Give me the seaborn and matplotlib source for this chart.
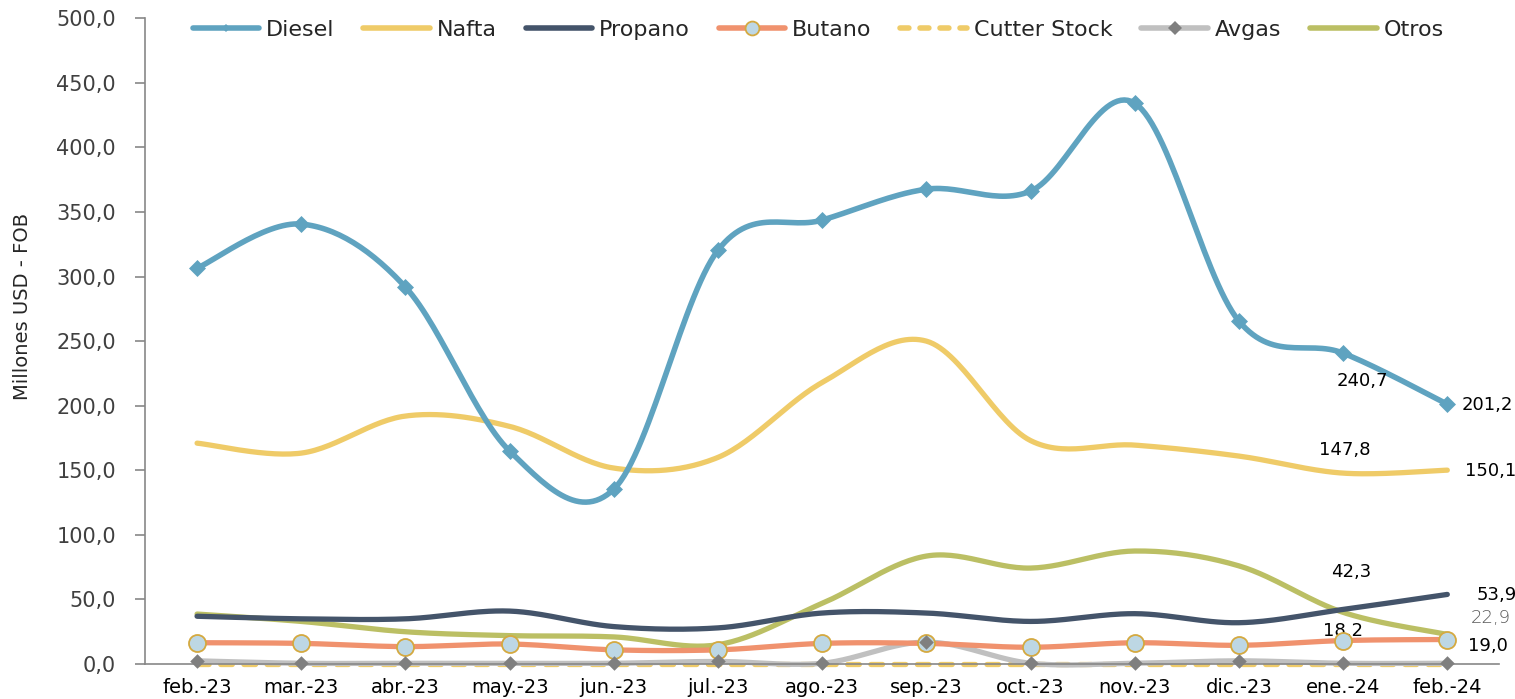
import numpy as np
import pandas as pd
import seaborn as sns
import matplotlib.pyplot as plt
from matplotlib.lines import Line2D

# datos (millones USD FOB)
meses = ["feb.-23", "mar.-23", "abr.-23", "may.-23", "jun.-23", "jul.-23", "ago.-23",
         "sep.-23", "oct.-23", "nov.-23", "dic.-23", "ene.-24", "feb.-24"]
diesel = [306.5, 340.6, 291.8, 164.9, 135.4, 320.4, 343.7, 367.6, 366.1, 434.2, 265.5, 240.7, 201.2]
nafta = [171.0, 163.3, 192.0, 184.0, 151.7, 160.0, 218.0, 250.0, 173.0, 169.5, 161.0, 147.8, 150.1]
propano = [37.0, 35.0, 35.0, 41.0, 29.0, 28.0, 39.5, 39.5, 33.0, 39.0, 32.0, 42.3, 53.9]
butano = [16.5, 16.0, 13.5, 15.5, 11.0, 11.0, 16.0, 16.0, 13.0, 16.5, 14.5, 18.2, 19.0]
cutter = [0.0, 0.0, 0.0, 0.0, 0.0, 0.0, 0.0, 0.0, 0.0, 0.0, 0.0, 0.0, 0.0]
avgas = [2.5, 0.6, 0.6, 0.6, 0.6, 2.0, 0.6, 17.0, 0.6, 0.6, 2.5, 0.6, 0.6]
otros = [38.7, 33.0, 25.0, 22.0, 21.0, 15.0, 47.0, 83.6, 74.3, 87.5, 76.0, 40.0, 22.9]

series = {
    "Diesel": diesel, "Nafta": nafta, "Propano": propano, "Butano": butano,
    "Cutter Stock": cutter, "Avgas": avgas, "Otros": otros,
}
colores = {
    "Diesel": "#5FA3C0", "Nafta": "#EFCB68", "Propano": "#44546A", "Butano": "#F0926E",
    "Cutter Stock": "#EFCB68", "Avgas": "#C0C0C0", "Otros": "#BBBF64",
}


def suavizar(y, n=30):
    # curva suavizada tipo Excel (Catmull-Rom -> Bezier)
    x = np.arange(len(y), dtype=float)
    y = np.asarray(y, dtype=float)
    pts = np.column_stack([x, y])
    out = []
    for i in range(len(pts) - 1):
        p0 = pts[max(i - 1, 0)]
        p1 = pts[i]
        p2 = pts[i + 1]
        p3 = pts[min(i + 2, len(pts) - 1)]
        c1 = p1 + (p2 - p0) / 6
        c2 = p2 - (p3 - p1) / 6
        t = np.linspace(0, 1, n, endpoint=False)[:, None]
        seg = ((1 - t) ** 3) * p1 + 3 * ((1 - t) ** 2) * t * c1 + 3 * (1 - t) * t ** 2 * c2 + t ** 3 * p2
        out.append(seg)
    out.append(pts[-1:])
    out = np.vstack(out)
    return out[:, 0], out[:, 1]


sns.set_style("white")
plt.rcParams["font.family"] = ["DejaVu Sans"]

fig = plt.figure(figsize=(15.15, 6.99), dpi=100)
ax = fig.add_axes([0.0957, 0.050, 0.894, 0.924])

orden = ["Cutter Stock", "Avgas", "Otros", "Butano", "Propano", "Nafta", "Diesel"]
for nombre in orden:
    xs, ys = suavizar(series[nombre])
    df = pd.DataFrame({"x": xs, "y": ys})
    estilo = dict(color=colores[nombre], linewidth=3.8, solid_capstyle="round", clip_on=False)
    if nombre == "Cutter Stock":
        estilo.update(linestyle=(0, (2.2, 2.2)), dash_capstyle="round")
    if nombre == "Diesel":
        estilo["linewidth"] = 4.0
    sns.lineplot(data=df, x="x", y="y", ax=ax, sort=False, estimator=None, **estilo)

x = np.arange(len(meses))
ax.scatter(x, diesel, marker="D", s=75, color=colores["Diesel"], zorder=5, linewidths=0)
ax.scatter(x, butano, marker="o", s=150, color="#BDD7E4", edgecolors="#D4A940", linewidths=1.3, zorder=5)
ax.scatter(x, avgas, marker="D", s=55, color="#7F7F7F", zorder=5, linewidths=0, clip_on=False)

ax.set_xlim(-0.5, 12.5)
ax.set_ylim(0, 500)
ax.set_yticks(np.arange(0, 501, 50))
ax.set_yticklabels([f"{v:.1f}".replace(".", ",") for v in np.arange(0, 501, 50)], fontsize=15, color="#404040")
ax.set_xticks(x)
ax.set_xticklabels(meses, fontsize=14, color="#000000")
ax.set_xticks(np.arange(-0.5, 13, 1), minor=True)
ax.tick_params(axis="x", which="major", length=0, pad=10)
ax.tick_params(axis="x", which="minor", length=6, color="#878787", width=1.2)
ax.tick_params(axis="y", length=7, color="#878787", width=1.2, left=True, pad=14)
ax.set_xlabel("")
ax.set_ylabel("Millones USD - FOB", fontsize=14)
ax.yaxis.set_label_coords(-0.0835, 0.553)

for lado in ["top", "right"]:
    ax.spines[lado].set_visible(False)
for lado in ["left", "bottom"]:
    ax.spines[lado].set_color("#878787")
    ax.spines[lado].set_linewidth(1.2)

# etiquetas de datos
etiquetas = [
    (11, diesel[11], "240,7", 19, -28, "black"),
    (12, diesel[12], "201,2", 40, -1, "black"),
    (11, nafta[11], "147,8", 2, 23, "black"),
    (12, nafta[12], "150,1", 43, -1, "black"),
    (11, propano[11], "42,3", 8, 37, "black"),
    (12, propano[12], "53,9", 49, -1, "black"),
    (12, otros[12], "22,9", 44, 16, "#595959"),
    (11, butano[11], "18,2", 0, 10, "black"),
    (12, butano[12], "19,0", 41, -6, "black"),
]
for xi, yi, txt, dx, dy, col in etiquetas:
    ax.annotate(txt, xy=(xi, yi), xytext=(dx, dy), textcoords="offset pixels",
                ha="center", va="center", fontsize=13, color=col,
                fontweight="light" if col != "black" else "normal")

handles = []
for nombre in ["Diesel", "Nafta", "Propano", "Butano", "Cutter Stock", "Avgas", "Otros"]:
    kw = dict(color=colores[nombre], linewidth=4, solid_capstyle="round")
    if nombre == "Diesel":
        kw.update(marker="D", markersize=4, markerfacecolor=colores["Diesel"], markeredgewidth=0)
    if nombre == "Butano":
        kw.update(marker="o", markersize=10, markerfacecolor="#BDD7E4", markeredgecolor="#D4A940", markeredgewidth=1.3)
    if nombre == "Avgas":
        kw.update(marker="D", markersize=7, markerfacecolor="#7F7F7F", markeredgewidth=0)
    if nombre == "Cutter Stock":
        kw.update(linestyle=(0, (1.6, 2.0)), dash_capstyle="round")
    handles.append(Line2D([0], [0], label=nombre, **kw))
ax.legend(handles=handles, loc="upper center", bbox_to_anchor=(0.497, 1.028), ncol=7,
          frameon=False, fontsize=16, handlelength=3.0, columnspacing=1.3, handletextpad=0.3)

fig.savefig("out.png", dpi=100)
